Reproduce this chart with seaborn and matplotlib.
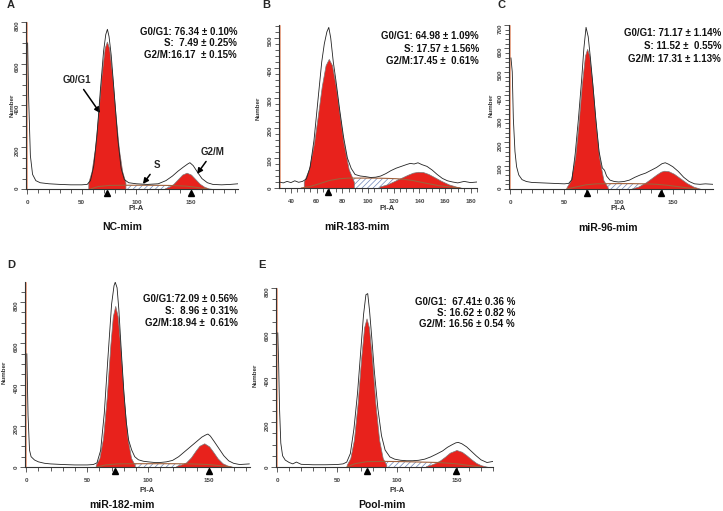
import seaborn as sns
import matplotlib.pyplot as plt
from matplotlib.ticker import MultipleLocator

# --- A: NC-mim ---
a_trace_x = [0.5, 1.5, 3, 5, 8, 12, 20, 30, 40, 50, 55, 58, 61, 64, 67, 70, 72, 73.5, 75, 77, 80, 83, 86, 89, 93,
             100, 110, 120, 127, 133, 138, 143, 147, 149, 152, 156, 160, 165, 170, 178, 186, 193]
a_trace_y = [700, 420, 160, 70, 40, 30, 25, 22, 20, 20, 22, 40, 110, 260, 470, 660, 740, 765, 730, 640, 440, 240, 100,
             45, 30, 25, 22, 25, 40, 62, 85, 105, 120, 126, 112, 80, 50, 30, 22, 20, 22, 25]
a_g1_x = [56, 59, 62, 65, 68, 71, 73, 75, 78, 81, 84, 87, 90]
a_g1_y = [31, 85, 191, 354, 539, 676, 706, 676, 539, 354, 191, 85, 31]
a_g2_x = [126, 130, 134, 138, 142, 146, 150, 154, 158, 162, 166, 170]
a_g2_y = [3, 11, 25, 47, 69, 78, 69, 47, 25, 11, 3, 0]
a_s_x = [58, 65, 75, 90, 110, 130, 145, 155, 165]
a_s_y = [0, 12, 17, 18, 18, 17, 14, 8, 0]
a_peaks = [73, 150]
a_stats = ["G0/G1: 76.34 ± 0.10%", "S:  7.49 ± 0.25%", "G2/M:16.17  ± 0.15%"]

# --- B: miR-183-mim ---
b_trace_x = [31, 34, 37, 40, 43, 46, 49, 52, 55, 58, 61, 64, 66, 68, 69.5, 71, 73, 75, 78, 81, 84, 87, 90, 94, 98,
             102, 106, 110, 114, 118, 122, 126, 130, 133, 136, 139, 142, 146, 150, 154, 158, 162, 166, 170, 175,
             180, 185]
b_trace_y = [20, 17, 22, 18, 24, 19, 22, 30, 70, 160, 290, 420, 480, 520, 535, 500, 420, 360, 260, 170, 100, 65, 45,
             40, 38, 35, 36, 40, 48, 58, 66, 72, 78, 82, 80, 84, 78, 72, 60, 45, 32, 24, 20, 17, 22, 18, 20]
b_g1_x = [50, 54, 58, 61, 64, 67, 69.5, 72, 75, 78, 81, 85, 89]
b_g1_y = [21, 63, 150, 242, 338, 409, 430, 409, 338, 242, 150, 63, 21]
b_g2_x = [109, 115, 121, 127, 131, 135, 139, 143, 147, 151, 157, 163, 170, 174]
b_g2_y = [5, 12, 24, 36, 44, 51, 54, 53, 47, 38, 24, 12, 3, 0]
b_s_x = [48, 55, 62, 70, 78, 85, 95, 105, 115, 122, 128, 135, 145, 155, 165, 172]
b_s_y = [0, 5, 14, 25, 31, 33, 33, 33, 32, 31, 29, 25, 16, 8, 3, 0]
b_peaks = [69]
b_stats = ["G0/G1: 64.98 ± 1.09%", "S: 17.57 ± 1.56%", "G2/M:17.45 ±  0.61%"]

# --- C: miR-96-mim ---
c_trace_x = [0.8, 2, 3, 4.5, 6, 8, 11, 15, 20, 30, 40, 50, 54, 57, 60, 63, 66, 68, 70, 72, 74, 76, 79, 82, 85, 87,
             89, 92, 96, 100, 105, 110, 115, 120, 125, 130, 135, 140, 143, 146, 150, 155, 160, 165, 170, 175, 180, 187]
c_trace_y = [560, 500, 300, 160, 95, 60, 40, 32, 28, 26, 24, 22, 24, 40, 150, 300, 470, 600, 690, 650, 560, 460, 300,
             160, 90, 80, 55, 38, 32, 30, 32, 38, 50, 60, 68, 80, 92, 108, 112, 106, 95, 75, 50, 32, 22, 20, 22, 20]
c_g1_x = [52, 56, 60, 63, 66, 69, 71, 73, 76, 79, 82, 86, 90]
c_g1_y = [7, 38, 137, 274, 441, 569, 598, 569, 441, 274, 137, 38, 7]
c_g2_x = [112, 118, 124, 130, 135, 139, 142, 146, 151, 157, 163, 169, 176]
c_g2_y = [2, 10, 25, 45, 62, 74, 78, 76, 65, 45, 25, 10, 0]
c_s_x = [52, 60, 70, 80, 95, 110, 125, 135, 145, 155, 165, 172]
c_s_y = [0, 8, 18, 22, 23, 23, 22, 20, 16, 10, 4, 0]
c_peaks = [71, 139]
c_stats = ["G0/G1: 71.17 ± 1.14%", "S: 11.52 ±  0.55%", "G2/M: 17.31 ± 1.13%"]

# --- D: miR-182-mim ---
d_trace_x = [0.5, 1.5, 2.7, 4, 6.8, 10, 15, 20, 30, 40, 50, 55, 58, 61, 64, 67, 70, 72, 73, 74.5, 76, 78, 80, 82,
             84, 86.5, 89, 92, 96, 100, 105, 110, 115, 120, 125, 130, 135, 140, 144, 147, 149, 151, 154, 158, 162,
             166, 170, 175, 183]
d_trace_y = [550, 250, 82, 50, 34, 25, 18, 15, 12, 10, 10, 12, 20, 80, 260, 530, 790, 880, 897, 870, 760, 560, 370,
             220, 130, 82, 50, 35, 28, 25, 22, 22, 25, 32, 50, 75, 100, 125, 145, 155, 160, 150, 125, 90, 55, 30, 18,
             12, 15]
d_g1_x = [57, 60, 63, 66, 69, 71, 73, 75, 77, 80, 83, 86, 89]
d_g1_y = [10, 43, 141, 337, 594, 731, 782, 731, 594, 337, 141, 43, 10]
d_g2_x = [123, 127, 131, 135, 139, 142, 146, 150, 153, 157, 161, 165, 170]
d_g2_y = [5, 12, 22, 46, 80, 103, 115, 100, 76, 42, 18, 7, 0]
d_s_x = [58, 65, 75, 90, 105, 120, 135, 150, 160, 168]
d_s_y = [0, 10, 15, 16, 16, 16, 15, 12, 6, 0]
d_peaks = [73, 149.5]
d_stats = ["G0/G1:72.09 ± 0.56%", "S:  8.96 ± 0.31%", "G2/M:18.94 ±  0.61%"]

# --- E: Pool-mim ---
e_trace_x = [0.5, 1.2, 1.9, 3, 4.5, 6.7, 10, 13, 16, 20, 30, 40, 50, 55, 58, 61, 64, 67, 70, 72, 74, 75.5, 77, 79,
             81, 84, 87, 90, 94, 98, 103, 108, 113, 118, 123, 128, 133, 138, 142, 146, 149, 151, 154, 158, 162, 166,
             170, 175, 180]
e_trace_y = [600, 464, 269, 107, 50, 31, 20, 14, 22, 12, 10, 10, 11, 14, 22, 60, 170, 330, 540, 680, 770, 775, 700,
             570, 430, 260, 140, 76, 45, 35, 30, 28, 28, 30, 35, 45, 58, 72, 88, 100, 108, 110, 104, 90, 70, 50, 32,
             20, 25]
e_g1_x = [58, 61, 64, 67, 70, 72.5, 74.5, 76.5, 79, 82, 85, 88, 91]
e_g1_y = [10, 40, 122, 280, 486, 624, 664, 624, 486, 280, 122, 40, 10]
e_g2_x = [124, 128, 132, 136, 140, 144, 149.5, 154, 158, 162, 166, 170, 176]
e_g2_y = [4, 10, 18, 30, 46, 64, 76, 68, 52, 34, 18, 8, 0]
e_s_x = [58, 65, 75, 90, 105, 120, 135, 150, 160, 170]
e_s_y = [0, 15, 24, 25, 24, 22, 20, 14, 7, 0]
e_peaks = [74.5, 149.5]
e_stats = ["G0/G1:  67.41± 0.36 %", "S: 16.62 ± 0.82 %", "G2/M: 16.56 ± 0.54 %"]

sns.set_style("white")
plt.rcParams['font.family'] = ['Liberation Sans', 'DejaVu Sans']
plt.rcParams['font.weight'] = 'bold'
plt.rcParams['hatch.linewidth'] = 0.5

W, H = 723, 511
fig = plt.figure(figsize=(W / 100, H / 100), dpi=100)


def box(left, top, right, bottom):
    return [left / W, 1 - bottom / H, (right - left) / W, (bottom - top) / H]


def ftext(x, y, s, **kw):
    fig.text(x / W, 1 - y / H, s, **kw)


def panel(rect, data, xlim, ylim, xmaj, xmin, ymaj, ymin):
    tx, ty, g1x, g1y, g2x, g2y, sx, sy, peaks = data
    ax = fig.add_axes(box(*rect))
    ax.fill_between(sx, sy, 0, facecolor='white', edgecolor='#6f86b8', hatch='//////', lw=0, zorder=1)
    ax.fill_between(g1x, g1y, 0, facecolor='#e8221c', edgecolor='#7a7a7a', lw=0.5, zorder=2)
    ax.fill_between(g2x, g2y, 0, facecolor='#e8221c', edgecolor='#7a7a7a', lw=0.5, zorder=2)
    ax.plot(sx, sy, color='#a0603a', lw=0.8, zorder=3)
    sns.lineplot(x=tx, y=ty, ax=ax, color='#222222', lw=0.6, estimator=None, sort=False, zorder=4)
    ax.plot(peaks, [-ylim * 0.022] * len(peaks), ls='', marker='^', ms=4.5, color='k', clip_on=False, zorder=5)
    ax.set_xlim(*xlim)
    ax.set_ylim(0, ylim)
    ax.xaxis.set_major_locator(MultipleLocator(xmaj))
    ax.xaxis.set_minor_locator(MultipleLocator(xmin))
    ax.yaxis.set_major_locator(MultipleLocator(ymaj))
    ax.yaxis.set_minor_locator(MultipleLocator(ymin))
    for side in ['top', 'right']:
        ax.spines[side].set_visible(False)
    for side in ['left', 'bottom']:
        ax.spines[side].set_color('#333333')
        ax.spines[side].set_linewidth(0.8)
    ax.axvline(xlim[0] + (xlim[1] - xlim[0]) * 0.006, color='#f0a080', lw=0.6, zorder=0)
    ax.tick_params(which='both', direction='out', color='#444444', width=0.6, labelsize=4.5, labelcolor='#444444',
                   left=True, bottom=True)
    ax.tick_params(which='major', length=3.5)
    ax.tick_params(which='minor', length=3)
    ax.tick_params(axis='x', pad=4.5)
    ax.tick_params(axis='y', labelrotation=90, pad=1)
    ax.set_xlabel('')
    ax.set_ylabel('')
    return ax


A = (a_trace_x, a_trace_y, a_g1_x, a_g1_y, a_g2_x, a_g2_y, a_s_x, a_s_y, a_peaks)
B = (b_trace_x, b_trace_y, b_g1_x, b_g1_y, b_g2_x, b_g2_y, b_s_x, b_s_y, b_peaks)
C = (c_trace_x, c_trace_y, c_g1_x, c_g1_y, c_g2_x, c_g2_y, c_s_x, c_s_y, c_peaks)
D = (d_trace_x, d_trace_y, d_g1_x, d_g1_y, d_g2_x, d_g2_y, d_s_x, d_s_y, d_peaks)
E = (e_trace_x, e_trace_y, e_g1_x, e_g1_y, e_g2_x, e_g2_y, e_s_x, e_s_y, e_peaks)

ax_a = panel((26, 22, 238, 189), A, (-1, 193), 800, 50, 10, 200, 50)
ax_b = panel((279, 25, 477, 188), B, (30.7, 185), 543, 20, 5, 100, 20)
ax_c = panel((509, 25, 713, 189), C, (-1, 187), 700, 50, 10, 100, 20)
ax_d = panel((25, 282, 250, 467), D, (-1, 183.5), 898, 50, 10, 200, 50)
ax_e = panel((276, 288, 493, 467), E, (-1, 180), 800, 50, 10, 200, 50)

# arrows in panel A
arrow = dict(arrowstyle='-|>', color='k', lw=1.1, mutation_scale=8, shrinkA=1, shrinkB=0)
ax_a.annotate('G0/G1', xy=(66.8, 364), xytext=(45.7, 522), ha='center', va='center', fontsize=7,
              arrowprops=arrow)
ax_a.annotate('S', xy=(106, 24), xytext=(119, 115), ha='center', va='center', fontsize=7, arrowprops=arrow)
ax_a.annotate('G2/M', xy=(155.5, 72), xytext=(170, 177), ha='center', va='center', fontsize=7, arrowprops=arrow)

# stats text
for stats, rx, ys in [(a_stats, 237, [32, 43, 55]), (b_stats, 479, [36, 49, 61]), (c_stats, 721, [33, 46, 59]),
                      (d_stats, 238, [299, 311, 323]), (e_stats, 515, [302, 313, 324])]:
    for s, y in zip(stats, ys):
        ftext(rx, y, s, ha='right', va='center', fontsize=7, color='#111111')

# panel letters
for s, x, y in [('A', 7, 5), ('B', 262, 5), ('C', 498, 5), ('D', 7, 265), ('E', 258, 265)]:
    ftext(x, y, s, ha='left', va='center', fontsize=8)

# x labels, y labels and sample names
for x, y in [(136, 209), (387, 209), (618, 208), (147, 490), (397, 490)]:
    ftext(x, y, 'PI-A', ha='center', va='center', fontsize=5.5, color='#333333')
for x, y in [(12, 105), (258, 108), (491, 105), (4, 372), (255, 375)]:
    ftext(x, y, 'Number', ha='center', va='center', fontsize=4.5, rotation=90, color='#333333')
for s, x, y in [('NC-mim', 122, 227), ('miR-183-mim', 357, 227), ('miR-96-mim', 608, 228),
                ('miR-182-mim', 122, 505), ('Pool-mim', 382, 505)]:
    ftext(x, y, s, ha='center', va='center', fontsize=7.5, color='#111111')

fig.savefig('out.png', dpi=100)
